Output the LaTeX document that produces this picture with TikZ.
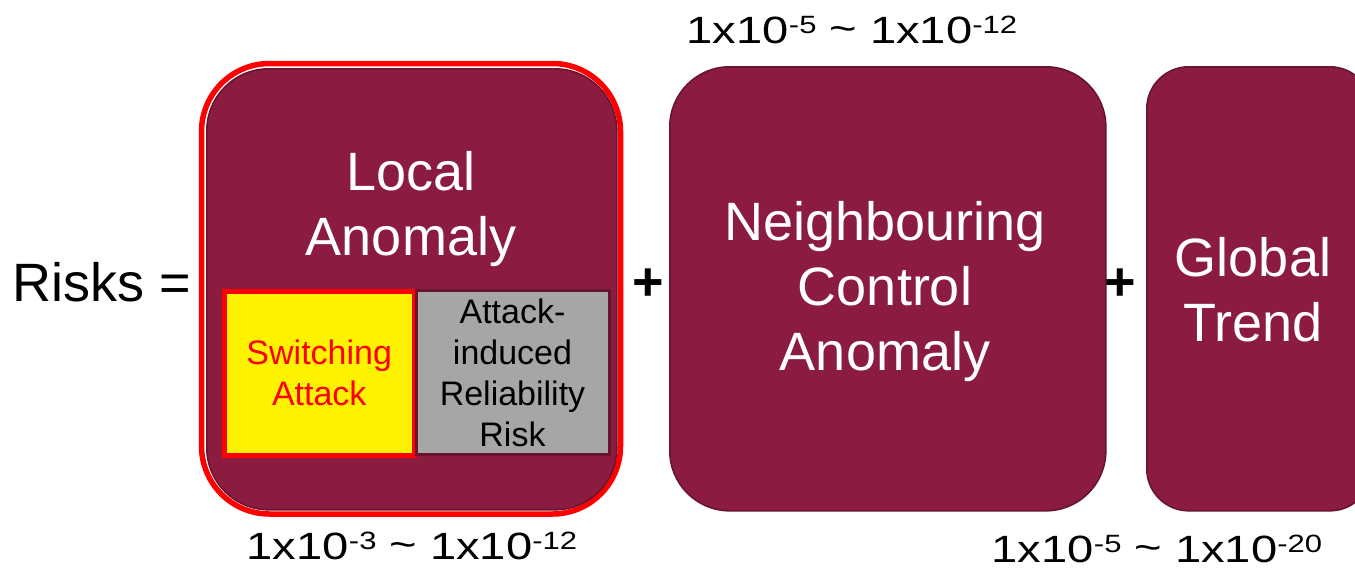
\documentclass[tikz,border=0pt]{standalone}
\usepackage{fontspec}
\setmainfont{Liberation Sans}
\definecolor{maroon}{RGB}{139,28,64}
\definecolor{maroondark}{RGB}{104,20,48}
\definecolor{riskgray}{RGB}{166,166,166}
\tikzset{
  bigbox/.style={draw=maroondark, line width=1.6pt, fill=maroon, text=white,
    align=center, font=\fontsize{54}{65}\selectfont, inner sep=0pt},
  boxlabel/.style={text=white, align=center, font=\fontsize{54}{65}\selectfont, inner sep=0pt},
  subbox/.style={align=center, font=\fontsize{34}{41}\selectfont, inner sep=0pt},
  eqtext/.style={font=\fontsize{54}{65}\selectfont, inner sep=0pt},
  plustext/.style={font=\bfseries\fontsize{54}{65}\selectfont, inner sep=0pt},
  rangetext/.style={font=\fontsize{38}{46}\selectfont, inner sep=0pt,
    xscale=1.24, transform shape, anchor=base}
}
\newcommand{\pow}[1]{\raisebox{10pt}{\fontsize{25}{28}\selectfont #1}}
\newcommand{\rng}[2]{1x10\pow{#1} \raisebox{0.05em}{\char`\~} 1x10\pow{#2}}
\begin{document}
\begin{tikzpicture}[x=1pt,y=-1pt]
\useasboundingbox (0,0) rectangle (1355,574);

% left-hand side
\node[eqtext, anchor=west] (risks) at (12,282) {Risks =};

% local anomaly block with red highlight ring
\draw[red, line width=5.5pt, rounded corners=68pt] (201.5,63.5) rectangle (620.5,514);
\node[bigbox, rounded corners=62pt, minimum width=410pt, minimum height=441pt,
  anchor=north west] (local) at (206,68) {};
\node[boxlabel] (localtxt) at (411,209) {Local\\Anomaly};

\node[subbox, draw=red, line width=4.5pt, fill=yellow, text=red,
  minimum width=190pt, minimum height=164pt, anchor=north west] (switch) at (222,289) {Switching\\Attack};
\node[subbox, draw=maroondark, line width=3pt, fill=riskgray, text=black,
  minimum width=193pt, minimum height=164pt, anchor=north west] (reliab) at (414.5,289) {Attack-\\induced\\Reliability\\Risk};

\node[plustext] (plus1) at (648,285) {+};

% neighbouring control anomaly
\node[bigbox, rounded corners=60pt, minimum width=436pt, minimum height=444pt,
  anchor=north west] (neigh) at (669,66) {};
\node[boxlabel] (neightxt) at (885,292) {Neighbouring\\Control\\Anomaly};

\node[plustext] (plus2) at (1120,285) {+};

% global trend
\node[bigbox, rounded corners=42pt, minimum width=225pt, minimum height=444pt,
  anchor=north west] (global) at (1146,66) {};
\node[boxlabel] (globaltxt) at (1253,290) {Global\\Trend};

% probability ranges
\node[rangetext] (rneigh) at (852,43) {\rng{-5}{-12}};
\node[rangetext] (rlocal) at (412,559) {\rng{-3}{-12}};
\node[rangetext] (rglobal) at (1157,562) {\rng{-5}{-20}};
\end{tikzpicture}
\end{document}
